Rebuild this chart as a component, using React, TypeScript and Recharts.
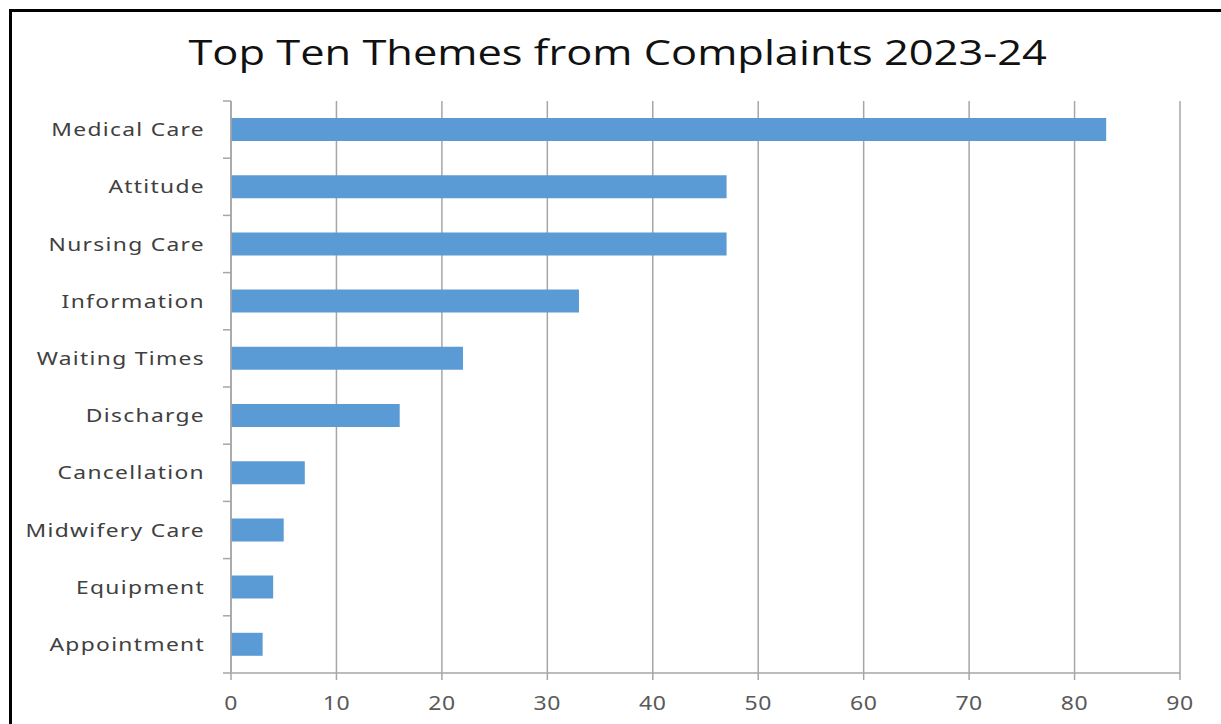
import { BarChart, Bar, XAxis, YAxis, CartesianGrid } from "recharts";

const themes = [
  "Medical Care",
  "Attitude",
  "Nursing Care",
  "Information",
  "Waiting Times",
  "Discharge",
  "Cancellation",
  "Midwifery Care",
  "Equipment",
  "Appointment",
];
const counts = [83, 47, 47, 33, 22, 16, 7, 5, 4, 3];
const xTicks = [0, 10, 20, 30, 40, 50, 60, 70, 80, 90];

const data = themes.map((name, i) => ({ name, count: counts[i] }));

const GRID = "#a6a6a6";
const TEXT = "#404040";
const FONT = "'Noto Sans', sans-serif";

// label plus a small tick at the band boundaries, like Excel
const ThemeTick = (props: any) => {
  const { x, y, payload, index } = props;
  const half = payload && payload.offset ? payload.offset : 28.5;
  const ax = x + 26;
  return (
    <g>
      <text
        transform={`translate(${x},${y}) scale(1.2,1)`}
        dy="0.35em"
        textAnchor="end"
        fill={TEXT}
        fontSize={19}
        letterSpacing={1.1}
        fontFamily={FONT}
      >
        {payload.value}
      </text>
      <line x1={ax - 8} x2={ax} y1={y - half} y2={y - half} stroke={GRID} strokeWidth={1.5} />
      {index === themes.length - 1 && (
        <line x1={ax - 8} x2={ax} y1={y + half} y2={y + half} stroke={GRID} strokeWidth={1.5} />
      )}
    </g>
  );
};

const ValueTick = (props: any) => {
  const { x, y, payload } = props;
  return (
    <text
      transform={`translate(${x},${y + 2}) scale(1.15,1)`}
      dy="0.71em"
      textAnchor="middle"
      fill="#595959"
      fontSize={20}
      letterSpacing={0.5}
      fontFamily={FONT}
    >
      {payload.value}
    </text>
  );
};

const App = () => {
  return (
    <div style={{ position: "fixed", left: 0, top: 0, width: 1221, height: 724, background: "#fff", overflow: "hidden" }}>
      <div
        style={{
          position: "absolute",
          left: 9,
          top: 9,
          width: 1240,
          height: 740,
          border: "3px solid #000",
        }}
      />
      <div
        style={{
          position: "absolute",
          left: 0,
          width: 1235,
          top: 28,
          textAlign: "center",
          fontFamily: "'Open Sans', sans-serif",
          fontSize: 35,
          color: "#111",
          transform: "scaleX(1.24)",
          transformOrigin: "617px 0",
          whiteSpace: "nowrap",
        }}
      >
        Top Ten Themes from Complaints 2023-24
      </div>
      <div style={{ position: "absolute", left: 0, top: 0 }}>
        <BarChart
          width={1221}
          height={724}
          data={data}
          layout="vertical"
          margin={{ top: 101, right: 41, bottom: 21, left: 0 }}
          barSize={23}
        >
          <CartesianGrid horizontal={false} stroke={GRID} strokeWidth={1.5} />
          <XAxis
            type="number"
            domain={[0, 90]}
            ticks={xTicks}
            interval={0}
            height={30}
            axisLine={{ stroke: GRID, strokeWidth: 1.5 }}
            tickLine={{ stroke: GRID, strokeWidth: 1.5 }}
            tickSize={7}
            tickMargin={14}
            tick={<ValueTick />}
          />
          <YAxis
            type="category"
            dataKey="name"
            width={231}
            interval={0}
            axisLine={{ stroke: GRID, strokeWidth: 1.5 }}
            tickLine={false}
            tickSize={0}
            tickMargin={26}
            tick={<ThemeTick />}
          />
          <Bar dataKey="count" fill="#5b9bd5" isAnimationActive={false} />
        </BarChart>
      </div>
    </div>
  );
};

export default App;
